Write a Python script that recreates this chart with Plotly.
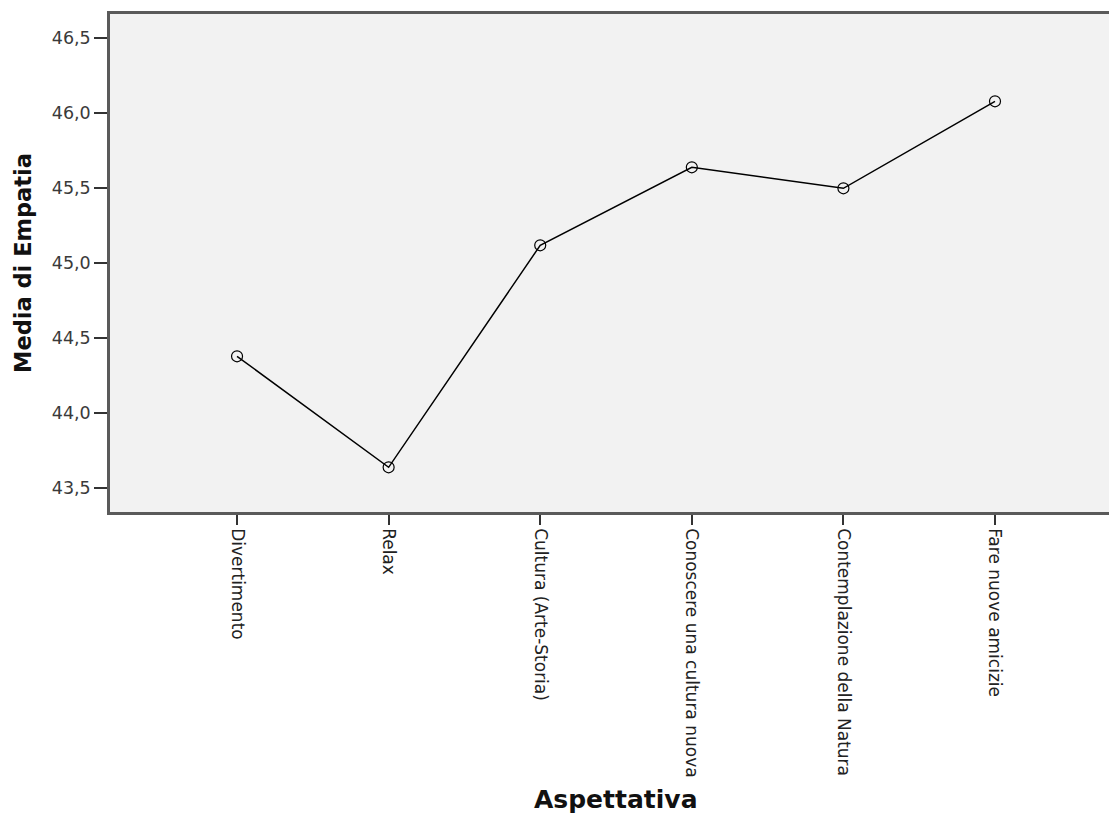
import plotly.graph_objects as go

categories = ["Divertimento", "Relax", "Cultura (Arte-Storia)", "Conoscere una cultura nuova",
              "Contemplazione della Natura", "Fare nuove amicizie"]
means = [44.38, 43.64, 45.12, 45.64, 45.50, 46.08]
y_ticks = [43.5, 44.0, 44.5, 45.0, 45.5, 46.0, 46.5]
y_title = "Media di Empatia"
x_title = "Aspettativa"

W, H = 1109, 816
L, T, B = 110, 14, 304
plot_w = W - L
plot_h = H - T - B

fig = go.Figure()
fig.add_trace(go.Scatter(
    x=list(range(len(categories))), y=means, mode="lines+markers",
    line=dict(color="black", width=1.5),
    marker=dict(symbol="circle-open", size=11, color="black", line=dict(width=1.2)),
    showlegend=False, hoverinfo="skip"))

fig.update_layout(
    width=W, height=H,
    margin=dict(l=L, r=0, t=T, b=B, pad=0),
    paper_bgcolor="white", plot_bgcolor="#f2f2f2",
    separators=",.",
    font=dict(family="DejaVu Sans", color="#222222"),
    xaxis=dict(
        range=[-0.838, 5.752],
        tickmode="array", tickvals=list(range(len(categories))), ticktext=categories,
        tickangle=90, ticks="outside", ticklen=10, tickwidth=1.5, tickcolor="#333333",
        tickfont=dict(size=17, color="#222222", family="DejaVu Sans"),
        showline=True, linecolor="#5a5a5a", linewidth=2.5, mirror=True,
        showgrid=False, zeroline=False, fixedrange=True),
    yaxis=dict(
        range=[43.342, 46.662],
        tickmode="array", tickvals=y_ticks, tickformat=".1f",
        ticks="outside", ticklen=13, tickwidth=1.5, tickcolor="#333333",
        tickfont=dict(size=17.5, color="#3a3a3a", family="DejaVu Sans"),
        showline=True, linecolor="#5a5a5a", linewidth=2.5, mirror=False,
        showgrid=False, zeroline=False, fixedrange=True),
    annotations=[
        dict(text="<b>" + y_title + "</b>", xref="paper", yref="paper",
             x=(23 - L) / plot_w, y=0.5, textangle=-90, showarrow=False,
             xanchor="center", yanchor="middle",
             font=dict(size=22.5, color="#111111", family="DejaVu Sans")),
        dict(text="<b>" + x_title + "</b>", xref="paper", yref="paper",
             x=(616 - L) / plot_w, y=-(799 - (T + plot_h)) / plot_h, showarrow=False,
             xanchor="center", yanchor="middle",
             font=dict(size=25, color="#111111", family="DejaVu Sans")),
    ],
)

fig.write_html("out.html", config={"displayModeBar": False},
               post_script="document.body.style.margin='0';document.body.style.overflow='hidden';")
